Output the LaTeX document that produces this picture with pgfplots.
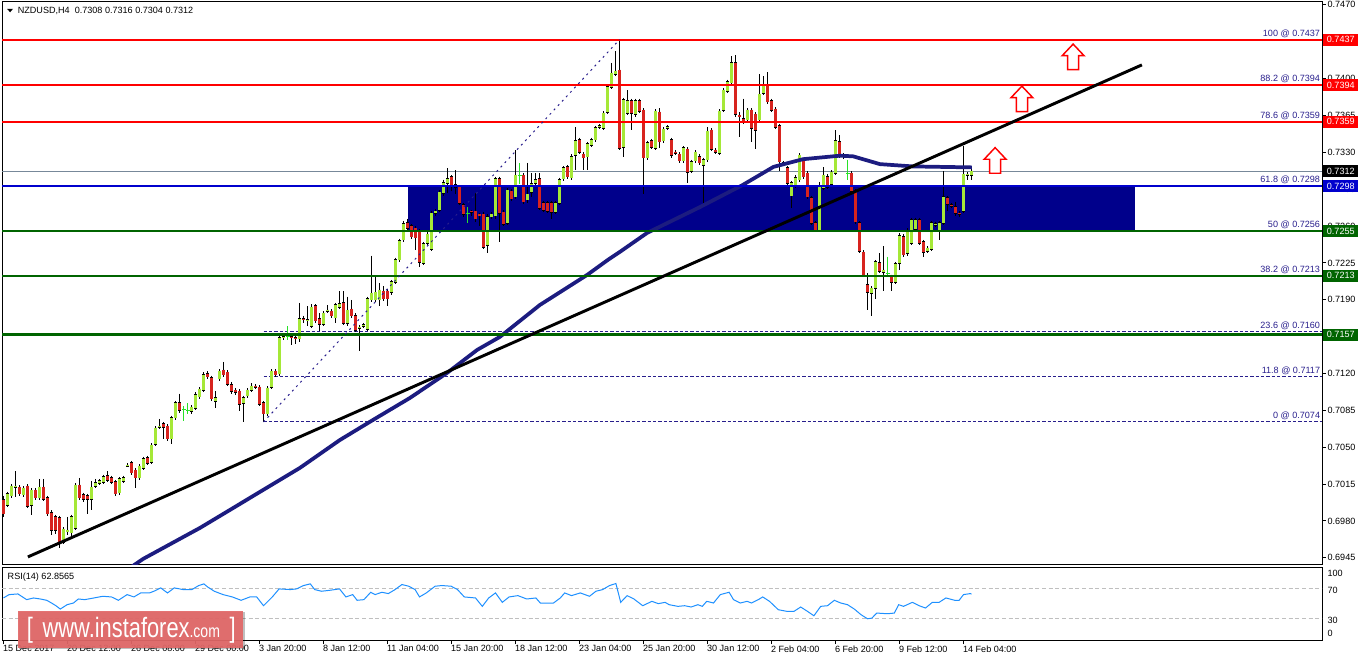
\documentclass[border=0pt]{standalone}
\usepackage{pgfplots}
\pgfplotsset{compat=1.18}
\usepackage{pgfplotstable}
\usepackage{fontspec}
\setmainfont{Liberation Sans}
\usepackage{graphicx}

\definecolor{bullc}{RGB}{165,232,55}
\definecolor{bearc}{RGB}{215,35,30}
\definecolor{dojic}{RGB}{40,225,40}
\definecolor{rectc}{RGB}{0,0,139}
\definecolor{mac}{RGB}{28,28,128}
\definecolor{lvred}{RGB}{255,0,0}
\definecolor{lvblue}{RGB}{0,0,205}
\definecolor{lvgreen}{RGB}{0,100,0}
\definecolor{fibc}{RGB}{40,30,140}
\definecolor{lastc}{RGB}{119,136,153}
\definecolor{rsic}{RGB}{30,144,255}
\definecolor{wmc}{RGB}{226,104,104}

\newcommand\sm{\fontsize{6.8}{8}\selectfont}

\pgfdeclareplotmark{uparr}{%
  \pgfpathmoveto{\pgfqpoint{0pt}{9.6pt}}%
  \pgfpathlineto{\pgfqpoint{8.2pt}{0.9pt}}%
  \pgfpathlineto{\pgfqpoint{4.2pt}{0.9pt}}%
  \pgfpathlineto{\pgfqpoint{4.2pt}{-9.6pt}}%
  \pgfpathlineto{\pgfqpoint{-4.2pt}{-9.6pt}}%
  \pgfpathlineto{\pgfqpoint{-4.2pt}{0.9pt}}%
  \pgfpathlineto{\pgfqpoint{-8.2pt}{0.9pt}}%
  \pgfpathclose
  \pgfusepathqfillstroke}

\pgfplotstableread{
i o h l c
0 0.7000 0.7004 0.6984 0.6987
1 0.6995 0.7008 0.6993 0.7006
2 0.7004 0.7015 0.7002 0.7013
3 0.7012 0.7027 0.7003 0.7013
4 0.7012 0.7014 0.7004 0.7006
5 0.7005 0.7013 0.7003 0.7011
6 0.7013 0.7015 0.6992 0.6994
7 0.6995 0.7011 0.6986 0.7009
8 0.7009 0.7011 0.7000 0.7002
9 0.7002 0.7020 0.7000 0.7012
10 0.7012 0.7020 0.6999 0.7001
11 0.7002 0.7004 0.6985 0.6987
12 0.6988 0.6990 0.6967 0.6971
13 0.6984 0.6986 0.6968 0.6971
14 0.6983 0.6985 0.6954 0.6959
15 0.6960 0.6974 0.6958 0.6972
16 0.6970 0.6984 0.6967 0.6971
17 0.6969 0.6986 0.6966 0.6984
18 0.6973 0.7016 0.6971 0.7014
19 0.7014 0.7021 0.7000 0.7002
20 0.7005 0.7007 0.6998 0.7001
21 0.7004 0.7006 0.6987 0.7001
22 0.7001 0.7018 0.6990 0.7012
23 0.7013 0.7020 0.7011 0.7016
24 0.7016 0.7020 0.7014 0.7018
25 0.7017 0.7024 0.7015 0.7022
26 0.7023 0.7027 0.7017 0.7019
27 0.7021 0.7023 0.7015 0.7017
28 0.7017 0.7019 0.7004 0.7006
29 0.7007 0.7022 0.7005 0.7020
30 0.7018 0.7023 0.7016 0.7021
31 0.7032 0.7035 0.7031 0.7033
32 0.7035 0.7037 0.7024 0.7026
33 0.7028 0.7030 0.7011 0.7021
34 0.7021 0.7034 0.7019 0.7032
35 0.7030 0.7041 0.7028 0.7039
36 0.7040 0.7042 0.7033 0.7035
37 0.7036 0.7054 0.7034 0.7052
38 0.7053 0.7070 0.7051 0.7068
39 0.7069 0.7077 0.7067 0.7070
40 0.7072 0.7074 0.7058 0.7069
41 0.7070 0.7072 0.7056 0.7058
42 0.7058 0.7080 0.7053 0.7078
43 0.7078 0.7094 0.7076 0.7092
44 0.7092 0.7101 0.7083 0.7085
45 0.7086 0.7089 0.7075 0.7086
46 0.7085 0.7092 0.7082 0.7085
47 0.7084 0.7090 0.7082 0.7088
48 0.7087 0.7102 0.7085 0.7100
49 0.7098 0.7107 0.7096 0.7105
50 0.7104 0.7121 0.7102 0.7119
51 0.7120 0.7122 0.7115 0.7117
52 0.7116 0.7118 0.7094 0.7096
53 0.7094 0.7103 0.7087 0.7097
54 0.7115 0.7124 0.7113 0.7122
55 0.7123 0.7131 0.7117 0.7119
56 0.7121 0.7123 0.7108 0.7110
57 0.7109 0.7112 0.7101 0.7103
58 0.7104 0.7106 0.7100 0.7102
59 0.7103 0.7105 0.7084 0.7091
60 0.7092 0.7099 0.7074 0.7097
61 0.7099 0.7106 0.7097 0.7104
62 0.7104 0.7111 0.7102 0.7108
63 0.7108 0.7110 0.7105 0.7107
64 0.7107 0.7109 0.7089 0.7091
65 0.7092 0.7094 0.7074 0.7082
66 0.7082 0.7108 0.7080 0.7106
67 0.7107 0.7124 0.7105 0.7122
68 0.7122 0.7124 0.7117 0.7119
69 0.7120 0.7156 0.7118 0.7154
70 0.7154 0.7158 0.7152 0.7155
71 0.7155 0.7165 0.7152 0.7155
72 0.7155 0.7157 0.7147 0.7154
73 0.7154 0.7156 0.7148 0.7153
74 0.7153 0.7187 0.7150 0.7172
75 0.7172 0.7175 0.7168 0.7171
76 0.7170 0.7184 0.7165 0.7171
77 0.7165 0.7186 0.7163 0.7183
78 0.7184 0.7186 0.7168 0.7170
79 0.7172 0.7177 0.7160 0.7167
80 0.7167 0.7179 0.7165 0.7177
81 0.7179 0.7185 0.7177 0.7180
82 0.7179 0.7181 0.7173 0.7175
83 0.7173 0.7187 0.7168 0.7185
84 0.7183 0.7198 0.7181 0.7186
85 0.7187 0.7198 0.7166 0.7168
86 0.7168 0.7193 0.7165 0.7180
87 0.7181 0.7190 0.7173 0.7175
88 0.7175 0.7177 0.7159 0.7161
89 0.7163 0.7166 0.7141 0.7164
90 0.7165 0.7168 0.7163 0.7166
91 0.7162 0.7193 0.7160 0.7191
92 0.7190 0.7232 0.7188 0.7196
93 0.7190 0.7212 0.7188 0.7197
94 0.7190 0.7206 0.7184 0.7199
95 0.7198 0.7203 0.7189 0.7191
96 0.7198 0.7200 0.7184 0.7191
97 0.7197 0.7209 0.7195 0.7207
98 0.7207 0.7230 0.7205 0.7228
99 0.7228 0.7248 0.7226 0.7246
100 0.7247 0.7265 0.7245 0.7262
101 0.7263 0.7267 0.7256 0.7258
102 0.7260 0.7262 0.7248 0.7250
103 0.7258 0.7260 0.7237 0.7249
104 0.7255 0.7257 0.7221 0.7226
105 0.7225 0.7245 0.7223 0.7243
106 0.7244 0.7254 0.7242 0.7252
107 0.7238 0.7274 0.7236 0.7272
108 0.7272 0.7276 0.7270 0.7274
109 0.7275 0.7294 0.7273 0.7292
110 0.7291 0.7304 0.7289 0.7301
111 0.7301 0.7315 0.7291 0.7305
112 0.7307 0.7308 0.7293 0.7299
113 0.7299 0.7313 0.7290 0.7297
114 0.7297 0.7299 0.7280 0.7282
115 0.7280 0.7282 0.7269 0.7271
116 0.7272 0.7278 0.7263 0.7272
117 0.7274 0.7275 0.7270 0.7273
118 0.7274 0.7291 0.7264 0.7267
119 0.7271 0.7272 0.7260 0.7270
120 0.7271 0.7273 0.7238 0.7240
121 0.7242 0.7271 0.7234 0.7269
122 0.7269 0.7273 0.7267 0.7271
123 0.7270 0.7307 0.7267 0.7305
124 0.7305 0.7307 0.7245 0.7272
125 0.7273 0.7275 0.7260 0.7262
126 0.7263 0.7296 0.7261 0.7294
127 0.7293 0.7295 0.7284 0.7286
128 0.7288 0.7332 0.7286 0.7308
129 0.7308 0.7320 0.7300 0.7308
130 0.7308 0.7310 0.7281 0.7283
131 0.7285 0.7320 0.7282 0.7290
132 0.7292 0.7310 0.7288 0.7300
133 0.7301 0.7310 0.7298 0.7304
134 0.7305 0.7310 0.7275 0.7277
135 0.7282 0.7284 0.7273 0.7275
136 0.7282 0.7284 0.7272 0.7274
137 0.7282 0.7284 0.7267 0.7273
138 0.7273 0.7284 0.7271 0.7282
139 0.7282 0.7306 0.7280 0.7304
140 0.7305 0.7317 0.7303 0.7315
141 0.7316 0.7318 0.7305 0.7307
142 0.7306 0.7328 0.7304 0.7326
143 0.7327 0.7354 0.7313 0.7341
144 0.7342 0.7344 0.7328 0.7330
145 0.7328 0.7330 0.7313 0.7325
146 0.7326 0.7340 0.7313 0.7338
147 0.7337 0.7344 0.7335 0.7342
148 0.7342 0.7355 0.7340 0.7353
149 0.7354 0.7357 0.7352 0.7355
150 0.7353 0.7369 0.7351 0.7367
151 0.7368 0.7394 0.7366 0.7392
152 0.7392 0.7415 0.7390 0.7405
153 0.7404 0.7426 0.7402 0.7407
154 0.7408 0.7437 0.7332 0.7334
155 0.7335 0.7382 0.7326 0.7380
156 0.7367 0.7389 0.7365 0.7379
157 0.7379 0.7381 0.7351 0.7367
158 0.7366 0.7381 0.7364 0.7379
159 0.7379 0.7381 0.7367 0.7369
160 0.7370 0.7372 0.7290 0.7325
161 0.7325 0.7341 0.7323 0.7339
162 0.7341 0.7343 0.7333 0.7335
163 0.7334 0.7371 0.7332 0.7369
164 0.7368 0.7372 0.7334 0.7340
165 0.7341 0.7354 0.7339 0.7352
166 0.7353 0.7356 0.7351 0.7354
167 0.7342 0.7344 0.7325 0.7327
168 0.7330 0.7332 0.7327 0.7329
169 0.7328 0.7330 0.7320 0.7322
170 0.7322 0.7336 0.7320 0.7334
171 0.7333 0.7335 0.7301 0.7311
172 0.7312 0.7323 0.7310 0.7321
173 0.7322 0.7332 0.7320 0.7330
174 0.7326 0.7328 0.7318 0.7320
175 0.7318 0.7325 0.7282 0.7323
176 0.7323 0.7354 0.7321 0.7350
177 0.7351 0.7353 0.7331 0.7333
178 0.7332 0.7334 0.7328 0.7330
179 0.7329 0.7371 0.7327 0.7369
180 0.7370 0.7391 0.7368 0.7389
181 0.7388 0.7399 0.7386 0.7397
182 0.7396 0.7421 0.7394 0.7415
183 0.7415 0.7422 0.7364 0.7366
184 0.7365 0.7368 0.7345 0.7364
185 0.7362 0.7381 0.7357 0.7359
186 0.7361 0.7372 0.7358 0.7370
187 0.7370 0.7372 0.7340 0.7353
188 0.7366 0.7368 0.7333 0.7351
189 0.7361 0.7404 0.7359 0.7385
190 0.7386 0.7402 0.7384 0.7394
191 0.7394 0.7406 0.7376 0.7378
192 0.7379 0.7381 0.7368 0.7370
193 0.7371 0.7373 0.7352 0.7354
194 0.7355 0.7357 0.7312 0.7321
195 0.7320 0.7322 0.7317 0.7319
196 0.7315 0.7317 0.7297 0.7301
197 0.7289 0.7303 0.7277 0.7301
198 0.7298 0.7308 0.7296 0.7306
199 0.7304 0.7329 0.7302 0.7327
200 0.7323 0.7325 0.7305 0.7307
201 0.7310 0.7312 0.7286 0.7288
202 0.7287 0.7289 0.7261 0.7263
203 0.7263 0.7265 0.7254 0.7256
204 0.7256 0.7302 0.7254 0.7297
205 0.7296 0.7316 0.7294 0.7308
206 0.7307 0.7309 0.7295 0.7297
207 0.7300 0.7313 0.7298 0.7311
208 0.7310 0.7351 0.7308 0.7341
209 0.7340 0.7346 0.7325 0.7327
210 0.7327 0.7329 0.7324 0.7326
211 0.7310 0.7323 0.7304 0.7310
212 0.7310 0.7312 0.7291 0.7293
213 0.7293 0.7295 0.7262 0.7264
214 0.7263 0.7265 0.7234 0.7236
215 0.7235 0.7237 0.7212 0.7214
216 0.7204 0.7215 0.7180 0.7197
217 0.7196 0.7203 0.7175 0.7201
218 0.7201 0.7228 0.7191 0.7226
219 0.7225 0.7234 0.7215 0.7217
220 0.7216 0.7241 0.7198 0.7218
221 0.7215 0.7231 0.7213 0.7215
222 0.7212 0.7214 0.7198 0.7207
223 0.7207 0.7226 0.7205 0.7224
224 0.7225 0.7253 0.7218 0.7251
225 0.7250 0.7252 0.7231 0.7233
226 0.7234 0.7258 0.7232 0.7256
227 0.7244 0.7268 0.7242 0.7266
228 0.7257 0.7268 0.7255 0.7266
229 0.7266 0.7268 0.7242 0.7244
230 0.7245 0.7247 0.7231 0.7235
231 0.7236 0.7241 0.7234 0.7239
232 0.7238 0.7265 0.7236 0.7263
233 0.7261 0.7264 0.7259 0.7262
234 0.7256 0.7265 0.7247 0.7263
235 0.7263 0.7312 0.7261 0.7288
236 0.7287 0.7289 0.7274 0.7281
237 0.7280 0.7282 0.7277 0.7279
238 0.7278 0.7283 0.7270 0.7272
239 0.7272 0.7274 0.7269 0.7271
240 0.7274 0.7336 0.7272 0.7309
241 0.7308 0.7311 0.7304 0.7309
242 0.7308 0.7316 0.7304 0.7312
}\candles

\pgfplotstableread{
i ma
31.6 0.69354
34.9 0.69440
49.1 0.69734
64.1 0.70076
74.1 0.70304
84.1 0.70569
92.4 0.70760
101.6 0.70968
110.9 0.71206
118.4 0.71424
124.1 0.71548
134.1 0.71851
145.9 0.72136
151.1 0.72279
154.1 0.72355
160.9 0.72535
174.1 0.72780
184.8 0.72990
192.5 0.73162
199.9 0.73235
209.1 0.73268
212.4 0.73262
219.1 0.73188
227.4 0.73166
242.1 0.73157
}\matab

\pgfplotstableread{
i rsi
0.0 57.6
1.4 62.2
3.6 63.1
5.8 55.3
7.5 57.6
9.2 56.2
10.8 54.4
12.0 50.7
13.1 47.0
14.2 42.4
15.9 48.4
17.5 50.7
18.7 56.2
20.3 55.3
22.6 57.6
24.8 59.9
27.0 59.0
28.7 54.4
30.9 62.2
32.6 59.0
34.3 64.5
36.5 64.5
37.6 66.8
39.3 71.4
41.0 64.5
42.7 71.4
44.9 69.1
47.1 69.1
48.8 74.6
50.1 76.9
51.0 72.8
52.7 66.8
54.9 62.2
57.2 59.0
59.4 54.4
61.6 59.0
63.3 59.0
65.0 47.0
67.2 59.0
68.9 70.0
71.7 69.1
73.3 70.0
75.0 74.6
76.7 76.9
77.8 69.1
79.5 66.8
81.7 68.2
84.0 70.0
85.6 59.0
87.3 62.2
88.4 54.4
90.1 55.3
91.8 65.4
92.9 62.2
94.6 65.4
96.2 63.6
97.9 69.1
99.6 76.0
101.3 73.7
102.9 69.1
104.0 59.0
105.7 64.5
107.9 73.7
109.6 74.6
111.9 73.7
113.5 69.1
115.2 59.0
118.0 57.6
119.7 46.1
121.3 57.6
123.0 64.5
124.7 51.6
126.4 59.0
128.6 60.8
130.8 56.2
133.1 57.6
134.2 50.7
137.5 50.7
139.2 57.6
140.3 64.5
142.0 60.8
144.2 64.5
146.5 59.9
148.1 66.8
149.8 69.1
151.5 74.6
153.1 77.4
154.3 51.6
155.9 60.8
157.6 56.2
159.8 47.0
162.1 53.0
163.7 49.8
165.4 51.6
166.4 48.4
168.6 46.1
170.3 47.0
171.9 45.2
173.6 48.4
174.7 46.1
175.8 53.0
177.5 50.7
179.2 62.2
181.4 65.4
182.5 55.3
184.2 50.7
185.9 53.0
187.0 50.7
188.7 55.3
189.8 59.0
191.5 53.0
193.7 41.5
195.9 39.2
197.6 39.2
199.3 45.2
201.0 39.2
202.6 33.2
204.3 46.1
206.0 47.0
207.7 54.4
209.3 50.7
211.0 48.4
212.7 42.4
214.4 34.6
216.0 29.1
217.1 30.0
218.3 36.9
221.0 36.0
222.7 36.9
223.8 48.4
225.0 46.1
227.2 51.6
228.9 47.0
230.5 43.8
232.2 51.6
233.9 51.6
235.6 57.6
237.8 54.4
238.9 54.4
240.0 62.2
241.7 63.6
242.0 62.9
}\rsitab

\pgfplotsset{
  candle/.style={draw=none, mark=none, forget plot,
    error bars/.cd, y dir=minus, y explicit, error mark=none},
}

\begin{document}
\begin{tikzpicture}
\useasboundingbox (0,0) rectangle (1021.5pt,-495.75pt);
\begin{axis}[
  at={(1.5pt,-1.5pt)}, anchor=north west,
  scale only axis, width=990pt, height=422.25pt,
  xmin=-0.375, xmax=329.625, ymin=0.69383, ymax=0.74728,
  clip mode=individual,
  axis line style={black, line width=0.75pt},
  xtick=\empty,
  ytick={0.6945,0.6980,0.7015,0.7050,0.7085,0.7120,0.7155,0.7190,0.7225,0.7260,0.7295,0.7330,0.7365,0.7400,0.7435,0.7470},
  yticklabels={0.6945,0.6980,0.7015,0.7050,0.7085,0.7120,0.7155,0.7190,0.7225,0.7260,0.7295,0.7330,0.7365,0.7400,0.7435,0.7470},
  ytick pos=right, yticklabel pos=right,
  tick align=outside, major tick length=3pt,
  tick style={black, line width=0.75pt},
  yticklabel style={font=\sm, anchor=west, inner sep=0pt, xshift=1pt},
]
% zone rectangle
\addplot[fill=rectc, draw=none, forget plot] coordinates {(101.1,0.7255) (101.1,0.7298) (282.9,0.7298) (282.9,0.7255)};
% last price line
\addplot[lastc, line width=0.75pt] coordinates {(-0.375,0.7312) (329.625,0.7312)};
% fib dashed levels
\foreach \lv in {0.7074,0.7117,0.7160,0.7213,0.7256,0.7298,0.7359,0.7394,0.7437}{
  \edef\tmp{\noexpand\addplot[fibc, line width=0.75pt, dash pattern=on 2.5pt off 1.5pt] coordinates {(65,\lv) (329.625,\lv)};}\tmp
}
% wicks
\addplot[candle, error bar style={draw=black, solid, line cap=butt, line width=0.8pt}]
  table[x=i, y expr={ifthenelse(\thisrow{o}==\thisrow{c}, 0, \thisrow{h})}, y error minus expr={\thisrow{h}-\thisrow{l}}] {\candles};
\addplot[candle, error bar style={draw=dojic, solid, line cap=butt, line width=0.8pt}]
  table[x=i, y expr={ifthenelse(\thisrow{o}==\thisrow{c}, \thisrow{h}, 0)}, y error minus expr={\thisrow{h}-\thisrow{l}}] {\candles};
\addplot[candle, error bar style={draw=dojic, solid, line cap=butt, line width=3pt}]
  table[x=i, y expr={ifthenelse(\thisrow{o}==\thisrow{c}, \thisrow{c}+0.00005, 0)}, y error minus expr={0.0001}] {\candles};
% bodies
\addplot[candle, error bar style={draw=black, solid, line cap=butt, line width=2.8pt}]
  table[x=i, y expr={ifthenelse(\thisrow{o}==\thisrow{c}, 0, max(\thisrow{o},\thisrow{c})+0.00006)}, y error minus expr={abs(\thisrow{c}-\thisrow{o})+0.00012}] {\candles};
\addplot[candle, error bar style={draw=bullc, solid, line cap=butt, line width=1.55pt}]
  table[x=i, y expr={ifthenelse(\thisrow{c}>\thisrow{o}, \thisrow{c}, 0)}, y error minus expr={abs(\thisrow{c}-\thisrow{o})}] {\candles};
\addplot[candle, error bar style={draw=bearc, solid, line cap=butt, line width=1.55pt}]
  table[x=i, y expr={ifthenelse(\thisrow{c}<\thisrow{o}, \thisrow{o}, 0)}, y error minus expr={abs(\thisrow{o}-\thisrow{c})}] {\candles};
% moving average
\addplot[mac, line width=2.8pt, line join=round] table[x=i, y=ma] {\matab};
% level lines
\addplot[lvred, line width=1.6pt] coordinates {(-0.375,0.7437) (329.625,0.7437)};
\addplot[lvred, line width=1.6pt] coordinates {(-0.375,0.7394) (329.625,0.7394)};
\addplot[lvred, line width=1.6pt] coordinates {(-0.375,0.7359) (329.625,0.7359)};
\addplot[lvblue, line width=1.6pt] coordinates {(-0.375,0.7298) (329.625,0.7298)};
\addplot[lvgreen, line width=1.6pt] coordinates {(-0.375,0.7255) (329.625,0.7255)};
\addplot[lvgreen, line width=1.6pt] coordinates {(-0.375,0.7213) (329.625,0.7213)};
\addplot[lvgreen, line width=1.6pt] coordinates {(-0.375,0.7157) (329.625,0.7157)};
% trend line
\addplot[black, line width=2.2pt] coordinates {(6.1,0.69459) (284.6,0.74130)};
% fib diagonal
\addplot[fibc, line width=0.75pt, dash pattern=on 1.5pt off 3pt] coordinates {(65,0.7074) (154,0.7437)};
% arrows
\addplot[only marks, mark=uparr, mark options={draw=lvred, fill=white, line width=1.1pt, solid}] coordinates {(247.9,0.73223) (254.6,0.73807) (267.4,0.74206)};
% fib labels
\foreach \lv/\tx in {0.7437/100 @ 0.7437, 0.7394/88.2 @ 0.7394, 0.7359/78.6 @ 0.7359, 0.7298/61.8 @ 0.7298, 0.7256/50 @ 0.7256, 0.7213/38.2 @ 0.7213, 0.7160/23.6 @ 0.7160, 0.7117/11.8 @ 0.7117, 0.7074/0 @ 0.7074}{
  \edef\tmp{\noexpand\node[font=\noexpand\sm, text=fibc, anchor=base east, inner sep=0pt] at (axis cs:329.2,\lv) [yshift=2.3pt] {\tx};}\tmp
}
\coordinate (b1) at (axis cs:329.625,0.7437);
\coordinate (b2) at (axis cs:329.625,0.7394);
\coordinate (b3) at (axis cs:329.625,0.7359);
\coordinate (b4) at (axis cs:329.625,0.7312);
\coordinate (b5) at (axis cs:329.625,0.7298);
\coordinate (b6) at (axis cs:329.625,0.7255);
\coordinate (b7) at (axis cs:329.625,0.7213);
\coordinate (b8) at (axis cs:329.625,0.7157);
\end{axis}

\begin{axis}[
  at={(1.5pt,-425.25pt)}, anchor=north west,
  scale only axis, width=990pt, height=54.75pt,
  xmin=-0.375, xmax=329.625, ymin=0, ymax=100,
  axis line style={black, line width=0.75pt},
  ytick={9.6,27.4,68.5,91.8}, yticklabels={0,30,70,100},
  ytick pos=right, yticklabel pos=right,
  ytick style={draw=none},
  yticklabel style={font=\sm, anchor=west, inner sep=0pt, xshift=1pt},
  xtick={0,16,32,48,64,80,96,112,128,144,160,176,192,208,224,240},
  xticklabels={15 Dec 2017,20 Dec 12:00,26 Dec 08:00,29 Dec 00:00,3 Jan 20:00,8 Jan 12:00,11 Jan 04:00,15 Jan 20:00,18 Jan 12:00,23 Jan 04:00,25 Jan 20:00,30 Jan 12:00,2 Feb 04:00,6 Feb 20:00,9 Feb 12:00,14 Feb 04:00},
  xtick pos=left, tick align=outside, major tick length=3pt,
  xtick style={black, line width=0.75pt},
  xticklabel style={font=\sm, anchor=north west, inner sep=0pt, xshift=-0.5pt, yshift=-1pt},
]
\addplot[gray!50, line width=0.75pt, dash pattern=on 3pt off 2pt] coordinates {(-0.375,70) (329.625,70)};
\addplot[gray!50, line width=0.75pt, dash pattern=on 3pt off 2pt] coordinates {(-0.375,30) (329.625,30)};
\addplot[rsic, line width=0.75pt] table[x=i, y=rsi] {\rsitab};
\end{axis}

% price boxes on the right
\foreach \c/\col/\tx in {b1/lvred/0.7437, b2/lvred/0.7394, b3/lvred/0.7359, b4/black/0.7312, b5/lvblue/0.7298, b6/lvgreen/0.7255, b7/lvgreen/0.7213, b8/lvgreen/0.7157}{
  \node[fill=\col, text=white, font=\sm, minimum width=26.25pt, minimum height=9pt, inner sep=0pt, anchor=west] at ([xshift=0.75pt]\c) {\tx};
}

% title
\fill[black] (5.3pt,-6.6pt) -- (9.8pt,-6.6pt) -- (7.55pt,-9.2pt) -- cycle;
\node[font=\sm, anchor=west, inner sep=0pt] at (13.2pt,-7.9pt) {NZDUSD,H4\ \ 0.7308 0.7316 0.7304 0.7312};
% RSI label
\node[font=\sm, anchor=west, inner sep=0pt] at (5.6pt,-432.5pt) {RSI(14) 62.8565};

% watermark
\fill[black, opacity=0.25] (14.6pt,-459.3pt) rectangle (183.4pt,-487.1pt);
\fill[wmc, opacity=0.93] (13.5pt,-458.25pt) rectangle (182.25pt,-486pt);
\node[text=white, anchor=west, inner sep=0pt] at (20pt,-472.5pt) {\scalebox{0.78}[1]{\fontsize{21}{21}\selectfont [\,\ www.instaforex{\fontsize{13.5}{13.5}\selectfont.com}\,\ ]}};
\end{tikzpicture}
\end{document}
